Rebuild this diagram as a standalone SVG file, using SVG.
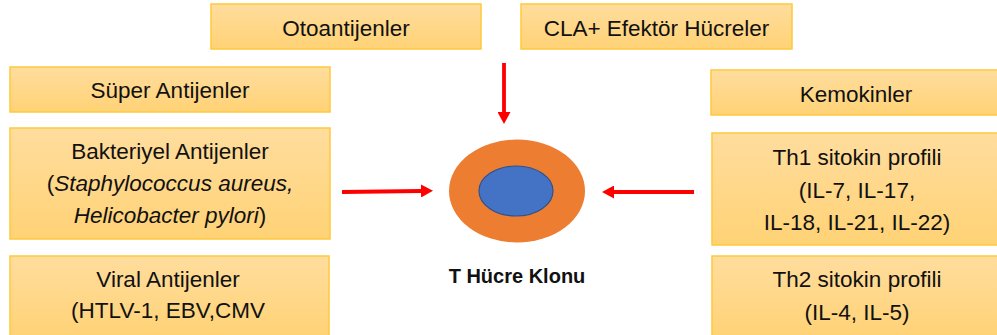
<svg xmlns="http://www.w3.org/2000/svg" width="997" height="335" viewBox="0 0 997 335">
<defs>
<linearGradient id="gold" x1="0" y1="0" x2="0" y2="1">
<stop offset="0" stop-color="#FFDD9E"/>
<stop offset="1" stop-color="#FFD275"/>
</linearGradient>
<marker id="ah" viewBox="0 0 12 13" markerUnits="userSpaceOnUse" markerWidth="12" markerHeight="13" refX="0" refY="6.5" orient="auto">
<path d="M0,0 L12,6.5 L0,13 z" fill="#FF0000"/>
</marker>
</defs>
<style>
.box{fill:url(#gold);stroke:#FFC93C;stroke-width:1.5}
.t{font-family:"Liberation Sans",Arial,sans-serif;font-size:22.5px;fill:#111;text-anchor:middle}
.it{font-style:italic}
.arrow{stroke:#FF0000;stroke-width:3.8;fill:none}
</style>
<rect width="997" height="335" fill="#fff"/>
<g id="otoantijenler">
<rect class="box" x="211" y="4" width="270" height="45"/>
<text class="t" x="346" y="36">Otoantijenler</text>
</g>
<g id="cla">
<rect class="box" x="521" y="4" width="271" height="45"/>
<text class="t" x="656.5" y="36">CLA+ Efektör Hücreler</text>
</g>
<g id="super">
<rect class="box" x="10" y="67" width="320" height="45"/>
<text class="t" x="170" y="98">Süper Antijenler</text>
</g>
<g id="bakteriyel">
<rect class="box" x="10" y="128" width="320" height="111"/>
<text class="t" x="170" y="159">Bakteriyel Antijenler</text>
<text class="t" x="170" y="191">(<tspan class="it">Staphylococcus aureus,</tspan></text>
<text class="t" x="170" y="223"><tspan class="it">Helicobacter pylori</tspan>)</text>
</g>
<g id="viral">
<rect class="box" x="10" y="256" width="319" height="82"/>
<text class="t" x="168" y="287">Viral Antijenler</text>
<text class="t" x="168" y="318">(HTLV-1, EBV,CMV</text>
</g>
<g id="kemokinler">
<rect class="box" x="711" y="70" width="292" height="45"/>
<text class="t" x="856" y="102">Kemokinler</text>
</g>
<g id="th1">
<rect class="box" x="712" y="133" width="292" height="112"/>
<text class="t" x="857" y="165">Th1 sitokin profili</text>
<text class="t" x="857" y="198">(IL-7, IL-17,</text>
<text class="t" x="857" y="230">IL-18, IL-21, IL-22)</text>
</g>
<g id="th2">
<rect class="box" x="712" y="256" width="292" height="82"/>
<text class="t" x="857" y="287">Th2 sitokin profili</text>
<text class="t" x="857" y="320">(IL-4, IL-5)</text>
</g>
<g id="tcell">
<ellipse cx="517" cy="191" rx="68" ry="51.5" fill="#ED7D31"/>
<ellipse cx="516" cy="191" rx="37" ry="25" fill="#4472C4" stroke="#2F528F" stroke-width="1.2"/>
<text x="517" y="283" font-family="'Liberation Sans',Arial,sans-serif" font-size="20" font-weight="bold" fill="#111" text-anchor="middle">T Hücre Klonu</text>
</g>
<g id="connectors">
<line class="arrow" x1="504" y1="63" x2="504" y2="112" marker-end="url(#ah)"/>
<line class="arrow" x1="342" y1="192" x2="421" y2="191" marker-end="url(#ah)"/>
<line class="arrow" x1="694" y1="192" x2="614" y2="192" marker-end="url(#ah)"/>
</g>
</svg>
